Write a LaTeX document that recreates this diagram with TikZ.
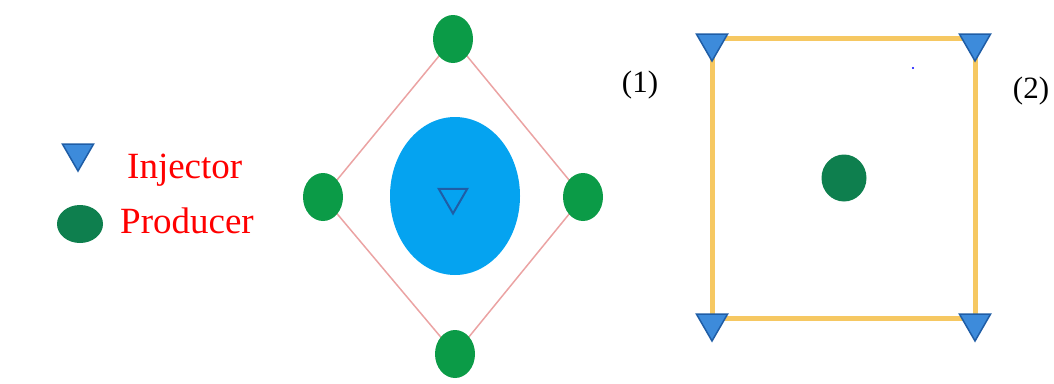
\documentclass[tikz,border=0pt]{standalone}
\usepackage{fontspec}
\setmainfont{Liberation Serif}
\usepackage{xcolor}
\usetikzlibrary{shapes.geometric}
\definecolor{prodgreen}{HTML}{0E7F4E}
\definecolor{ringgreen}{HTML}{0B9B47}
\definecolor{injblue}{HTML}{3D8BDB}
\definecolor{injedge}{HTML}{1F5DA6}
\definecolor{floodblue}{HTML}{05A3F0}
\definecolor{linkred}{HTML}{EBA3A3}
\definecolor{sqyellow}{HTML}{F6C862}
\tikzset{
inj/.style={regular polygon,regular polygon sides=3,shape border rotate=180,
  fill=injblue,draw=injedge,line width=1.5pt,minimum size=36pt,inner sep=0pt},
prod/.style={ellipse,fill=prodgreen,minimum width=45pt,minimum height=40pt,inner sep=0pt},
ring/.style={ellipse,fill=ringgreen,minimum width=40pt,minimum height=48pt,inner sep=0pt},
lbl/.style={font=\rmfamily\fontsize{37}{40}\selectfont,text=red,anchor=base west,inner sep=0pt},
num/.style={font=\rmfamily\fontsize{31}{34}\selectfont,inner sep=0pt}
}
\begin{document}
\begin{tikzpicture}[x=1pt,y=-1pt]
\useasboundingbox (0,0) rectangle (1054,383);
% legend
\node[inj] (legI) at (78,153) {};
\node[prod,minimum width=46pt,minimum height=38pt] (legP) at (80,224) {};
\node[lbl] (txtI) at (127,178) {Injector};
\node[lbl] (txtP) at (120,233) {Producer};
% pattern (1)
\node[ellipse,fill=floodblue,minimum width=130pt,minimum height=158pt] (flood) at (455,196) {};
\node[regular polygon,regular polygon sides=3,shape border rotate=180,draw=injedge,
  line width=2pt,minimum size=33pt,inner sep=0pt] (injC) at (453,197) {};
\coordinate (pT) at (453,39);
\coordinate (pL) at (323,197);
\coordinate (pR) at (583,197);
\coordinate (pB) at (455,354);
\draw[linkred,line width=1.5pt] (pT)--(pR)--(pB)--(pL)--cycle;
\node[ring] (prodT) at (pT) {};
\node[ring] (prodL) at (pL) {};
\node[ring] (prodR) at (pR) {};
\node[ring] (prodB) at (pB) {};
\node[num] (lab1) at (640,85) {(1)};
% pattern (2)
\coordinate (sq1) at (712,38);
\coordinate (sq2) at (975,38);
\coordinate (sq3) at (975,318);
\coordinate (sq4) at (712,318);
\draw[sqyellow,line width=5pt] (sq1)--(sq2)--(sq3)--(sq4)--cycle;
\node[inj] (inj1) at ([yshift=-5pt]sq1) {};
\node[inj] (inj2) at ([yshift=-5pt]sq2) {};
\node[inj] (inj3) at ([yshift=-5pt]sq3) {};
\node[inj] (inj4) at ([yshift=-5pt]sq4) {};
\node[prod,minimum width=45pt,minimum height=47pt] (prodC) at (844,178) {};
\fill[blue] (913,68) circle (1.2pt);
\node[num] (lab2) at (1031,91) {(2)};
\end{tikzpicture}
\end{document}
